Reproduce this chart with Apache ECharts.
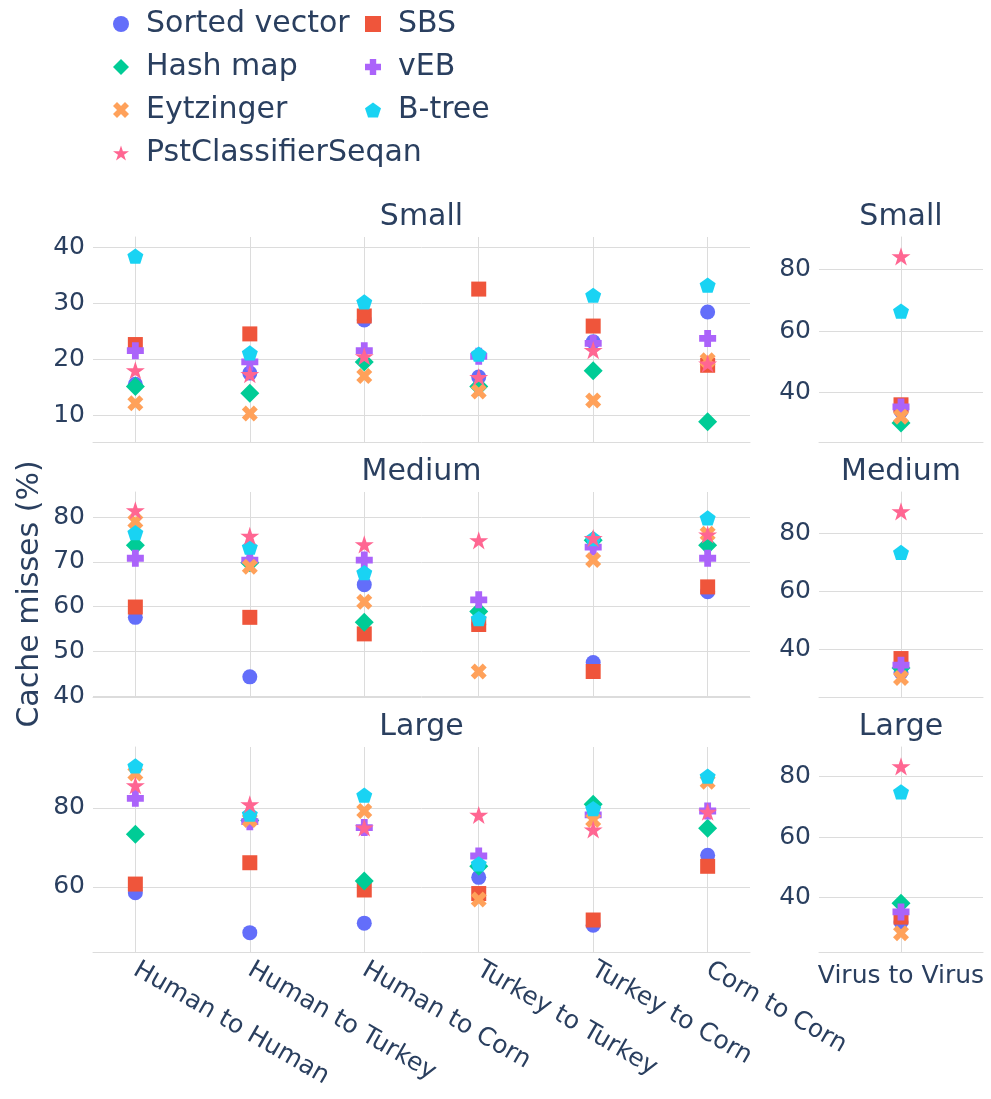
<!DOCTYPE html>
<html>
<head>
<meta charset="utf-8">
<script src="https://cdn.jsdelivr.net/npm/echarts@6.0.0/dist/echarts.min.js"></script>
<style>
  html, body { margin: 0; padding: 0; background: #fff; }
  #chart { width: 991px; height: 1099px; }
</style>
</head>
<body>
<div id="chart"></div>
<script>
// categories of the wide panels, plus the single one on the right
const categories = ["Human to Human", "Human to Turkey", "Human to Corn", "Turkey to Turkey", "Turkey to Corn", "Corn to Corn"];
const virusCategory = "Virus to Virus";
const sizeNames = ["Small", "Medium", "Large"];

// values: 6 categories then Virus to Virus as last entry
const smallSortedVector = [15.5, 17.5, 27.0, 16.8, 23.1, 28.4, 34.0];
const smallSBS          = [22.6, 24.5, 27.7, 32.5, 25.9, 18.9, 36.0];
const smallHashMap      = [15.1, 13.9, 19.5, 15.1, 17.9, 8.8, 30.1];
const smallVEB          = [21.5, 19.5, 21.5, 20.5, 22.8, 23.7, 35.3];
const smallEytzinger    = [12.1, 10.3, 17.0, 14.2, 12.6, 19.8, 32.1];
const smallBTree        = [38.4, 21.1, 30.2, 20.9, 31.4, 33.2, 66.5];
const smallPst          = [18.0, 17.3, 20.5, 16.8, 21.6, 19.2, 84.3];

const mediumSortedVector = [57.6, 44.3, 64.9, 56.0, 47.5, 63.3, 32.0];
const mediumSBS          = [59.9, 57.6, 53.9, 56.0, 45.5, 64.4, 36.8];
const mediumHashMap      = [73.7, 69.8, 56.5, 58.9, 74.8, 73.7, 33.5];
const mediumVEB          = [70.8, 70.4, 70.4, 61.5, 73.3, 70.8, 34.5];
const mediumEytzinger    = [79.0, 68.9, 61.1, 45.5, 70.4, 76.3, 30.1];
const mediumBTree        = [76.5, 73.3, 67.6, 57.3, 75.2, 79.8, 73.5];
const mediumPst          = [81.5, 75.8, 73.9, 74.8, 75.3, 76.1, 87.7];

const largeSortedVector = [58.5, 48.4, 50.8, 62.4, 50.3, 68.0, 32.0];
const largeSBS          = [60.7, 66.1, 59.2, 58.3, 51.6, 65.2, 33.6];
const largeHashMap      = [73.3, 76.8, 61.5, 65.2, 80.9, 74.8, 38.2];
const largeVEB          = [82.4, 76.5, 75.0, 67.8, 78.2, 79.2, 35.3];
const largeEytzinger    = [88.7, 76.9, 79.2, 56.8, 76.9, 86.6, 28.3];
const largeBTree        = [90.6, 78.4, 83.2, 65.8, 79.8, 88.0, 74.9];
const largePst          = [85.7, 80.9, 75.0, 78.2, 74.5, 79.0, 83.3];

const seriesNames = ["Sorted vector", "SBS", "Hash map", "vEB", "Eytzinger", "B-tree", "PstClassifierSeqan"];
const valuesBySize = [
  [smallSortedVector, smallSBS, smallHashMap, smallVEB, smallEytzinger, smallBTree, smallPst],
  [mediumSortedVector, mediumSBS, mediumHashMap, mediumVEB, mediumEytzinger, mediumBTree, mediumPst],
  [largeSortedVector, largeSBS, largeHashMap, largeVEB, largeEytzinger, largeBTree, largePst]
];

// marker shapes
const starPath = "path://M10,0L12.245,6.91L19.51,6.91L13.63,11.18L15.88,18.09L10,13.82L4.12,18.09L6.37,11.18L0.49,6.91L7.755,6.91Z";
const pentagonPath = "path://M10,0L19.51,6.91L15.88,18.09L4.12,18.09L0.49,6.91Z";
const plusPath = "path://M3,0H7V3H10V7H7V10H3V7H0V3H3Z";
const xPath = "path://M0,2.5L2.5,0L5,2.5L7.5,0L10,2.5L7.5,5L10,7.5L7.5,10L5,7.5L2.5,10L0,7.5L2.5,5Z";

const styles = {
  "Sorted vector":      { color: "#636efa", symbol: "circle", size: 15 },
  "SBS":                { color: "#EF553B", symbol: "rect", size: 15 },
  "Hash map":           { color: "#00cc96", symbol: "diamond", size: 19 },
  "vEB":                { color: "#ab63fa", symbol: plusPath, size: 17 },
  "Eytzinger":          { color: "#FFA15A", symbol: xPath, size: 16 },
  "B-tree":             { color: "#19d3f3", symbol: pentagonPath, size: 16 },
  "PstClassifierSeqan": { color: "#FF6692", symbol: starPath, size: 19 }
};

const font = "DejaVu Sans";
const textColor = "#2a3f5f";
const gridColor = "#dcdcdc";
const tickFont = 25;

// panel layout (px)
const rowTops = [237, 492, 747];
const rowHeight = 205;
const leftPanel = { left: 93, width: 657 };
const rightPanel = { left: 819, width: 164 };

// y ranges per row: [left min, left max, left step, right min, right max, right step]
const yRanges = [
  [5.2, 41.8, 10, 23.9, 90.6, 20],
  [39.8, 85.6, 10, 23.5, 94.4, 20],
  [43.5, 95.4, 20, 22.1, 89.7, 20]
];

const grids = [], xAxes = [], yAxes = [], series = [];

sizeNames.forEach((size, r) => {
  const bottomRow = r === 2;
  grids.push({ left: leftPanel.left, top: rowTops[r], width: leftPanel.width, height: rowHeight });
  grids.push({ left: rightPanel.left, top: rowTops[r], width: rightPanel.width, height: rowHeight });

  xAxes.push({
    type: "value", gridIndex: 2 * r, min: -0.37, max: 5.37, minInterval: 1, maxInterval: 1,
    axisLine: { show: true, onZero: false, lineStyle: { color: gridColor } },
    axisTick: { show: false },
    splitLine: { show: true, showMinLine: false, showMaxLine: false, lineStyle: { color: gridColor } },
    axisLabel: {
      show: bottomRow, rotate: -30, margin: 16, fontSize: tickFont, color: textColor, fontFamily: font,
      showMinLabel: false, showMaxLabel: false,
      formatter: v => { const i = Math.round(v); return Math.abs(v - i) < 1e-6 && categories[i] ? categories[i] : ""; }
    }
  });
  xAxes.push({
    type: "value", gridIndex: 2 * r + 1, min: -1, max: 1, interval: 1,
    axisLine: { show: true, onZero: false, lineStyle: { color: gridColor } },
    axisTick: { show: false },
    splitLine: { show: true, showMinLine: false, showMaxLine: false, lineStyle: { color: gridColor } },
    axisLabel: {
      show: bottomRow, margin: 12, fontSize: tickFont, color: textColor, fontFamily: font,
      showMinLabel: false, showMaxLabel: false,
      formatter: v => (Math.abs(v) < 1e-6 ? virusCategory : "")
    }
  });

  const yr = yRanges[r];
  [[yr[0], yr[1], yr[2]], [yr[3], yr[4], yr[5]]].forEach((rg, c) => {
    yAxes.push({
      type: "value", gridIndex: 2 * r + c, min: rg[0], max: rg[1], minInterval: rg[2], maxInterval: rg[2],
      axisLine: { show: true, lineStyle: { color: gridColor } },
      axisTick: { show: false },
      splitLine: { show: true, showMinLine: false, showMaxLine: false, lineStyle: { color: gridColor } },
      axisLabel: { fontSize: tickFont, color: textColor, fontFamily: font, margin: 8, showMinLabel: false, showMaxLabel: false }
    });
  });

  seriesNames.forEach((name, m) => {
    const vals = valuesBySize[r][m];
    const st = styles[name];
    const common = {
      name, type: "scatter", symbol: st.symbol, symbolSize: st.size, symbolKeepAspect: true,
      itemStyle: { color: st.color, opacity: 1 }, emphasis: { disabled: true }
    };
    series.push(Object.assign({}, common, {
      xAxisIndex: 2 * r, yAxisIndex: 2 * r,
      data: categories.map((c, i) => [i, vals[i]])
    }));
    series.push(Object.assign({}, common, {
      xAxisIndex: 2 * r + 1, yAxisIndex: 2 * r + 1,
      data: [[0, vals[6]]]
    }));
  });
});

const legendCommon = {
  orient: "vertical", top: 4, itemWidth: 16, itemHeight: 16, itemGap: 13,
  selectedMode: false,
  textStyle: { fontSize: 30, color: textColor, fontFamily: font, padding: [0, 0, 0, 12] }
};

const titleTexts = [];
sizeNames.forEach((s, r) => {
  [leftPanel, rightPanel].forEach(p => {
    titleTexts.push({
      type: "text", x: p.left + p.width / 2, y: rowTops[r] - 20,
      style: { text: s, fontSize: 30, fill: textColor, fontFamily: font, textAlign: "center", textVerticalAlign: "middle" }
    });
  });
});

const chart = echarts.init(document.getElementById("chart"));
chart.setOption({
  animation: false,
  backgroundColor: "#fff",
  textStyle: { fontFamily: font },
  grid: grids,
  xAxis: xAxes,
  yAxis: yAxes,
  legend: [
    Object.assign({}, legendCommon, {
      left: 108,
      data: [
        { name: "Sorted vector", icon: "circle" },
        { name: "Hash map", icon: "diamond" },
        { name: "Eytzinger", icon: xPath },
        { name: "PstClassifierSeqan", icon: starPath }
      ]
    }),
    Object.assign({}, legendCommon, {
      left: 360,
      data: [
        { name: "SBS", icon: "rect" },
        { name: "vEB", icon: plusPath },
        { name: "B-tree", icon: pentagonPath }
      ]
    })
  ],
  graphic: titleTexts.concat([{
    type: "text", x: 30, y: 594, rotation: Math.PI / 2,
    style: { text: "Cache misses (%)", fontSize: 30, fill: textColor, fontFamily: font, textAlign: "center", textVerticalAlign: "middle" }
  }]),
  series
});
window.addEventListener("resize", () => chart.resize());
</script>
</body>
</html>
